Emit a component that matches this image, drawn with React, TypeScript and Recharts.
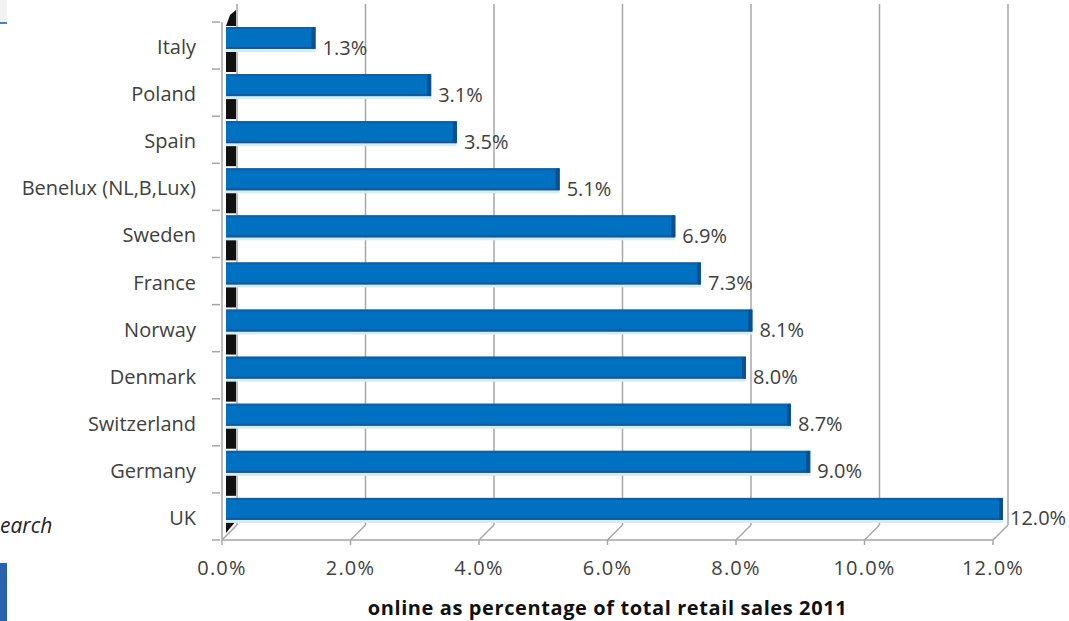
import { BarChart, Bar, XAxis, YAxis, CartesianGrid, LabelList } from 'recharts';

const countries = ['Italy', 'Poland', 'Spain', 'Benelux (NL,B,Lux)', 'Sweden', 'France', 'Norway', 'Denmark', 'Switzerland', 'Germany', 'UK'];
const shares = [1.3, 3.1, 3.5, 5.1, 6.9, 7.3, 8.1, 8.0, 8.7, 9.0, 12.0];
const xTicks = [0, 2, 4, 6, 8, 10, 12];

const data = countries.map((name, i) => ({ name, share: shares[i] }));

// 3D offsets: bars sit mid-depth, back wall at full depth
const BAR_DX = 10;
const BAR_DY = -8;
const WALL_D = 15;
const FONT = '"Open Sans", "DejaVu Sans", sans-serif';
const AXIS_GREY = '#a6a6a6';
const TEXT = '#404040';

const Bar3D = (props: any) => {
    const { x, y, width, height, index } = props;
    const left = x + 4;
    const right = x + width + BAR_DX;
    const by = y + BAR_DY;
    const bottom = by + height;
    const last = index === countries.length - 1;
    return (
        <g>
            {/* dark end faces showing on the left wall */}
            {index === 0 && (
                <polygon points={`${left},${by - 1} ${left + 10},${by - 1} ${left + 10},${by - 17} ${left + 4},${by - 12}`} fill="#111" />
            )}
            {last ? (
                <polygon points={`${left},${bottom + 1} ${left + 10},${bottom + 1} ${left},${bottom + 13}`} fill="#111" />
            ) : (
                <rect x={left} y={bottom + 2} width={10} height={21} fill="#111" />
            )}
            <rect x={left} y={bottom} width={right - left} height={3} fill="#cdeefc" />
            <rect x={left} y={by} width={right - left} height={height} fill="#0070c0" />
            <rect x={left} y={by} width={right - left} height={2} fill="#1d5a96" />
            <rect x={left} y={bottom - 2} width={right - left} height={2} fill="#15599c" />
            <rect x={right - 4} y={by} width={4} height={height} rx={2} fill="#0b4f8e" />
        </g>
    );
};

const ValueLabel = (props: any) => {
    const { x, y, width, height, value } = props;
    return (
        <text
            x={x + width + BAR_DX + 7}
            y={y + height / 2 + 1}
            dominantBaseline="central"
            fontFamily={FONT}
            fontSize={20}
            fill={TEXT}
        >
            {value.toFixed(1)}%
        </text>
    );
};

const GridLine = (props: any) => {
    const { x1, y1, y2 } = props;
    return (
        <g key={`g-${x1}`}>
            <line x1={x1 + WALL_D} y1={y1 - WALL_D - 3} x2={x1 + WALL_D} y2={y2 - WALL_D} stroke={AXIS_GREY} strokeWidth={1.5} />
            <line x1={x1 + WALL_D} y1={y2 - WALL_D} x2={x1} y2={y2} stroke={AXIS_GREY} strokeWidth={1.5} />
        </g>
    );
};

const XTick = (props: any) => {
    const { x, y, payload } = props;
    return (
        <g>
            <line x1={x} y1={y - 8} x2={x} y2={y - 3} stroke={AXIS_GREY} strokeWidth={1.5} />
            <text
                x={x}
                y={y + 27}
                textAnchor="middle"
                fontFamily={FONT}
                fontSize={20}
                letterSpacing={1.2}
                fill={TEXT}
            >
                {payload.value.toFixed(1)}%
            </text>
        </g>
    );
};

const YTick = (props: any) => {
    const { x, y, payload, index } = props;
    const band = 47;
    return (
        <g>
            <line x1={x - 2} y1={y - band / 2} x2={x + 6} y2={y - band / 2} stroke={AXIS_GREY} strokeWidth={1.5} />
            {index === countries.length - 1 && (
                <line x1={x - 2} y1={y + band / 2} x2={x + 6} y2={y + band / 2} stroke={AXIS_GREY} strokeWidth={1.5} />
            )}
            <text
                x={x - 18}
                y={y + 1}
                textAnchor="end"
                dominantBaseline="central"
                fontFamily={FONT}
                fontSize={20}
                fill={TEXT}
            >
                {payload.value}
            </text>
        </g>
    );
};

export default function App() {
    return (
        <div style={{ position: 'absolute', left: 0, top: 0, width: 1069, height: 621, background: '#fff', overflow: 'hidden' }}>
            {/* fragments of the surrounding page */}
            <div style={{ position: 'absolute', left: 0, top: 0, width: 7, height: 22, background: '#f2f2f2' }} />
            <div style={{ position: 'absolute', left: 0, top: 22, width: 7, height: 2, background: '#4f81bd' }} />
            <div style={{ position: 'absolute', left: 0, top: 563, width: 7, height: 58, background: '#2a62b0' }} />
            <div style={{ position: 'absolute', left: 0, top: 511, fontFamily: FONT, fontStyle: 'italic', fontSize: 21, color: '#222' }}>
                earch
            </div>
            <BarChart
                width={1069}
                height={621}
                data={data}
                layout="vertical"
                margin={{ top: 22, right: 76, bottom: 0, left: 0 }}
                barSize={22}
            >
                <CartesianGrid horizontal={false} vertical={GridLine} />
                <XAxis
                    type="number"
                    domain={[0, 12]}
                    ticks={xTicks}
                    height={81}
                    axisLine={{ stroke: AXIS_GREY, strokeWidth: 1.5 }}
                    tickLine={false}
                    tick={XTick}
                    interval={0}
                    label={{
                        value: 'online as percentage of total retail sales 2011',
                        position: 'insideBottom',
                        offset: 6,
                        style: { fontFamily: FONT, fontSize: 20, fontWeight: 700, fill: '#111', letterSpacing: 0.6 },
                    }}
                />
                <YAxis
                    type="category"
                    dataKey="name"
                    width={222}
                    axisLine={{ stroke: AXIS_GREY, strokeWidth: 1.5 }}
                    tickLine={false}
                    tick={YTick}
                    interval={0}
                />
                <Bar dataKey="share" shape={Bar3D} isAnimationActive={false}>
                    <LabelList dataKey="share" content={ValueLabel} />
                </Bar>
            </BarChart>
        </div>
    );
}
